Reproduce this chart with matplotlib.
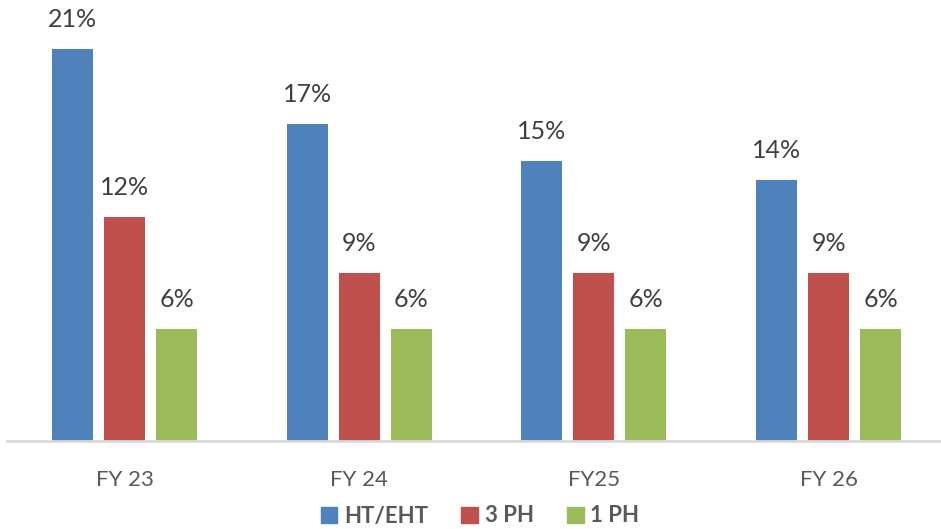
import matplotlib
matplotlib.use("Agg")
import matplotlib.pyplot as plt
import numpy as np
from matplotlib.patches import Patch

categories = ["FY 23", "FY 24", "FY25", "FY 26"]
series_names = ["HT/EHT", "3 PH", "1 PH"]
ht_eht = [21, 17, 15, 14]
ph3 = [12, 9, 9, 9]
ph1 = [6, 6, 6, 6]
colors = ["#4F81BD", "#C0504D", "#9BBB59"]

plt.rcParams['font.family'] = ['Lato', 'DejaVu Sans']

W, H = 941, 529
fig = plt.figure(figsize=(W/100, H/100), dpi=100)
left, right = 7.2, 946.0
bottom_px = 441
ax = fig.add_axes([left/W, (H-bottom_px)/H, (right-left)/W, bottom_px/H])

x = np.arange(len(categories))
bw = 0.175
off = 0.2216
series = [ht_eht, ph3, ph1]
for i, (vals, c, name) in enumerate(zip(series, colors, series_names)):
    bars = ax.bar(x + (i-1)*off, vals, width=bw, color=c, label=name, zorder=2)
    for b, v in zip(bars, vals):
        ax.annotate(f"{v}%", (b.get_x()+b.get_width()/2, v), xytext=(0, 13),
                    textcoords="offset points", ha="center", va="bottom",
                    fontsize=18, color="#404040")

ax.set_xlim(-0.5, len(categories)-0.5)
ax.set_ylim(0, bottom_px/(392/21))
for s in ["top", "right", "left"]:
    ax.spines[s].set_visible(False)
ax.spines["bottom"].set_color("#D9D9D9")
ax.spines["bottom"].set_linewidth(2)
ax.set_yticks([])
ax.set_xticks(x)
ax.set_xticklabels(categories, fontsize=16, color="#595959")
ax.tick_params(axis="x", length=0, pad=21)

handles = [Patch(color=c) for c in colors]
fig.legend(handles, series_names, loc="center", bbox_to_anchor=(480/W, 1-516/H),
           ncol=3, frameon=False, handlelength=0.75, handleheight=0.75,
           handletextpad=0.3, columnspacing=1.5,
           prop={"size": 16, "weight": "bold"}, labelcolor="#595959")

fig.savefig("out.png", dpi=100)
